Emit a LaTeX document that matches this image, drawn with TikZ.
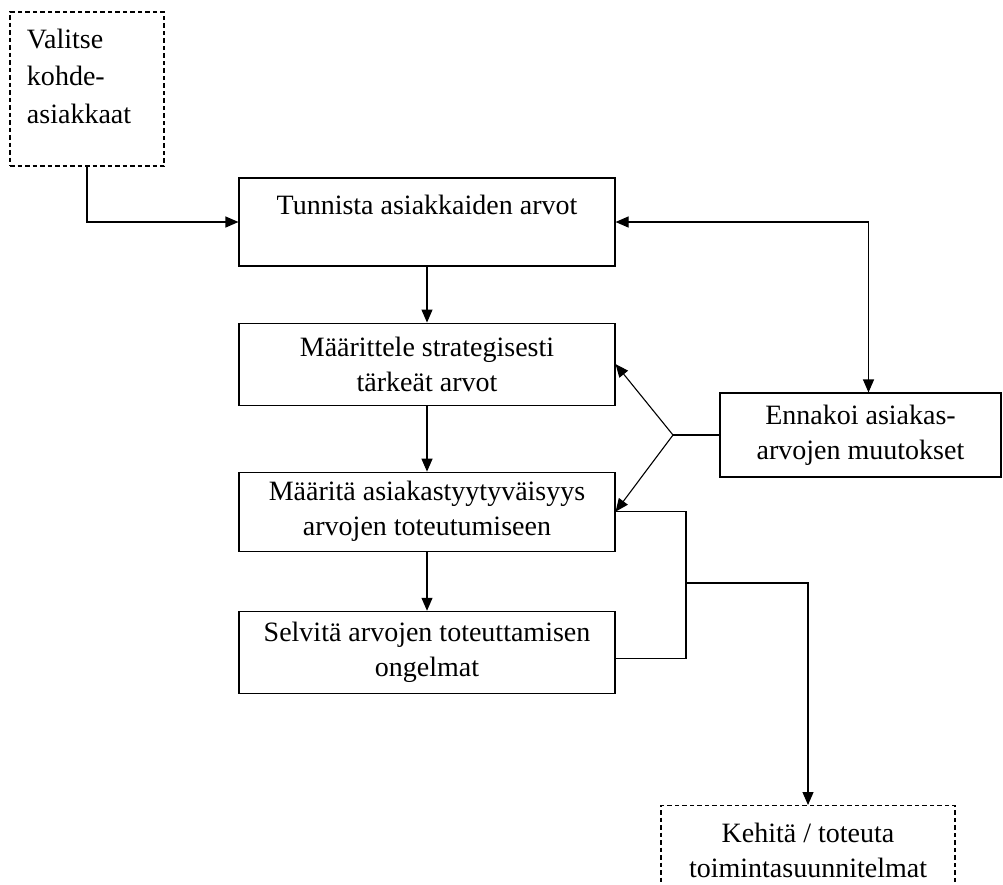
\documentclass[tikz,border=0pt]{standalone}
\usepackage{fontspec}
\setmainfont{Liberation Serif}
\usetikzlibrary{arrows.meta,positioning}

\begin{document}
\begin{tikzpicture}[x=1pt, y=-1pt,
    node distance=56pt,
    line width=1.1pt,
    box/.style={draw, align=center, font=\fontsize{28}{35}\selectfont,
                minimum width=376pt, inner sep=0pt},
    dbox/.style={box, dash pattern=on 4.5pt off 3pt},
    >={Triangle[length=13pt,width=11pt]}]
  \useasboundingbox (0,0) rectangle (1003,884);
  \node[dbox, font=\fontsize{28}{37.5}\selectfont, minimum width=154pt, minimum height=154pt,
        text width=120pt, align=left] (valitse) at (87,89) {Valitse\\kohde-\\asiakkaat\\[-12pt]\mbox{}};
  \node[box, minimum height=88pt] (tunnista) at (427,222) {Tunnista asiakkaiden arvot\\\mbox{}};
  \node[box, minimum height=82pt, below=56pt of tunnista] (maarittele) {Määrittele strategisesti\\tärkeät arvot};
  \node[box, minimum height=79pt, below=66pt of maarittele] (maarita) {Määritä asiakastyytyväisyys\\arvojen toteutumiseen};
  \node[box, minimum height=82pt, below=59pt of maarita] (selvita) {Selvitä arvojen toteuttamisen\\ongelmat};
  \node[box, minimum width=281pt, minimum height=84pt] (ennakoi) at (860.5,435) {Ennakoi asiakas-\\arvojen muutokset};
  \node[dbox, minimum width=294pt, minimum height=90pt, anchor=north] (kehita) at (808,805) {Kehitä / toteuta\\toimintasuunnitelmat};
  \coordinate (fork) at (673,435);
  \coordinate (merge) at (686,583);
  \draw[->] (valitse.south) |- (tunnista.west);
  \draw[->] (tunnista) -- (maarittele);
  \draw[->] (maarittele) -- (maarita);
  \draw[->] (maarita) -- (selvita);
  \draw[<->] (tunnista.east) -| ([xshift=8pt]ennakoi.north);
  \draw (ennakoi.west) -- (fork);
  \draw[->] (fork) -- (maarittele.east);
  \draw[->] (fork) -- (maarita.east);
  \draw (maarita.east) -| (merge) |- ([yshift=-6pt]selvita.east);
  \draw[->] (merge) -| (kehita.north);
\end{tikzpicture}
\end{document}
